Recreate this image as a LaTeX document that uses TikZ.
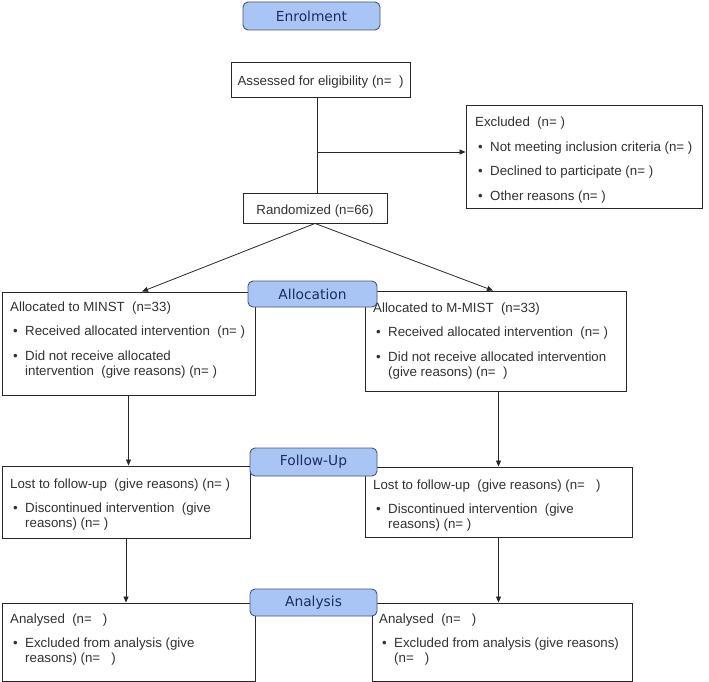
\documentclass[tikz,border=0pt]{standalone}
\usepackage{fontspec}
\setmainfont{Liberation Sans}
\newfontfamily\hdrfont{DejaVu Sans}
\usetikzlibrary{arrows.meta,fit}
\definecolor{hdrfill}{RGB}{168,197,245}
\definecolor{hdrdraw}{RGB}{70,85,120}
\definecolor{hdrtext}{RGB}{30,45,90}
\definecolor{txtc}{RGB}{50,50,50}
\definecolor{linec}{RGB}{40,40,40}
\newcommand{\bul}{\makebox[15pt][l]{\hspace{3pt}•}}
\newcommand{\cont}{\hspace*{15pt}}
\tikzset{
 box/.style={draw=linec, line width=0.9pt, fill=white, inner sep=0pt, text=txtc, font=\fontsize{13.3}{15}\selectfont},
 hdr/.style={draw=hdrdraw, fill=hdrfill, rounded corners=5pt, line width=0.9pt, text=hdrtext, font=\hdrfont\fontsize{13.8}{16}\selectfont, inner sep=0pt},
 txt/.style={inner sep=0pt, text=txtc, font=\fontsize{13.3}{15}\selectfont, anchor=base west},
 arr/.style={draw=linec, line width=0.8pt, -{Triangle[length=6pt,width=5pt]}},
 ln/.style={draw=linec, line width=0.8pt},
}
\begin{document}
\begin{tikzpicture}[x=1pt,y=-1pt]
\useasboundingbox (0,0) rectangle (709,682);
% boxes
\node[box, fit={(231,62)(410,97)}] (assess) {};
\node[txt, anchor=base] (assessT) at (320.5,86) {Assessed for eligibility (n=\ \ )};
\node[box, fit={(466,105)(702,208)}] (excl) {};
\node[txt] (exclT) at (475,127) {\parbox[t]{228pt}{Excluded\ \ (n=\ )\\[9.5pt]\bul Not meeting inclusion criteria (n=\ )\\[9.5pt]\bul Declined to participate (n=\ )\\[9.5pt]\bul Other reasons (n=\ )}};
\node[box, fit={(243,193)(387,223)}] (rand) {};
\node[txt, anchor=base] (randT) at (315,214) {Randomized (n=66)};

\node[box, fit={(2,292)(255,395)}] (allocL) {};
\node[txt] (allocLT) at (10,311) {\parbox[t]{245pt}{Allocated to MINST\ \ (n=33)\\[9.5pt]\bul Received allocated intervention\ \ (n=\ )\\[9.5pt]\bul Did not receive allocated\\\cont intervention\ \ (give reasons) (n=\ )}};
\node[box, fit={(365,291)(626,391)}] (allocR) {};
\node[txt] (allocRT) at (373,312) {\parbox[t]{252pt}{Allocated to M-MIST\ \ (n=33)\\[9.5pt]\bul Received allocated intervention\ \ (n=\ )\\[9.5pt]\bul Did not receive allocated intervention\\\cont (give reasons) (n=\ \ )}};

\node[box, fit={(2,466)(250,538)}] (followL) {};
\node[txt] (followLT) at (10,488) {\parbox[t]{240pt}{Lost to follow-up\ \ (give reasons) (n=\ )\\[9.5pt]\bul Discontinued intervention\ \ (give\\\cont reasons) (n=\ )}};
\node[box, fit={(365,467)(632,537)}] (followR) {};
\node[txt] (followRT) at (373,489) {\parbox[t]{258pt}{Lost to follow-up\ \ (give reasons) (n=\ \ \ )\\[9.5pt]\bul Discontinued intervention\ \ (give\\\cont reasons) (n=\ )}};

\node[box, fit={(2,603)(255,681)}] (anaL) {};
\node[txt] (anaLT) at (10,623) {\parbox[t]{245pt}{Analysed\ \ (n=\ \ \ )\\[9.5pt]\bul Excluded from analysis (give\\\cont reasons) (n=\ \ \ )}};
\node[box, fit={(372,603)(632,681)}] (anaR) {};
\node[txt] (anaRT) at (379,623) {\parbox[t]{252pt}{Analysed\ \ (n=\ \ \ )\\[9.5pt]\bul Excluded from analysis (give reasons)\\\cont (n=\ \ \ )}};

% connectors
\coordinate (top) at ([xshift=-3.5pt]assess.south);
\draw[ln] (top) -- (top |- rand.north);
\coordinate (br) at (top |- 0,152);
\draw[arr] (br) -- (br -| excl.west);
\draw[arr] (rand.south) -- ([xshift=13.5pt]allocL.north);
\draw[arr] (rand.south) -- ([xshift=-2.5pt]allocR.north);
\draw[arr] (allocL.south) -- (allocL.south |- followL.north);
\draw[arr] (followR.north |- allocR.south) -- (followR.north);
\draw[arr] (followL.south) -- (followL.south |- anaL.north);
\draw[arr] (followR.south) -- (followR.south |- anaR.north);

% headers
\node[hdr, minimum width=137pt, minimum height=28pt] (enrol) at (311.5,16) {Enrolment};
\node[hdr, minimum width=129pt, minimum height=26pt] (alloc) at (312.5,294) {Allocation};
\node[hdr, minimum width=127pt, minimum height=28pt] (follow) at (313.5,462) {Follow-Up};
\node[hdr, minimum width=127pt, minimum height=27pt] (ana) at (313.5,602.5) {Analysis};
\end{tikzpicture}
\end{document}
